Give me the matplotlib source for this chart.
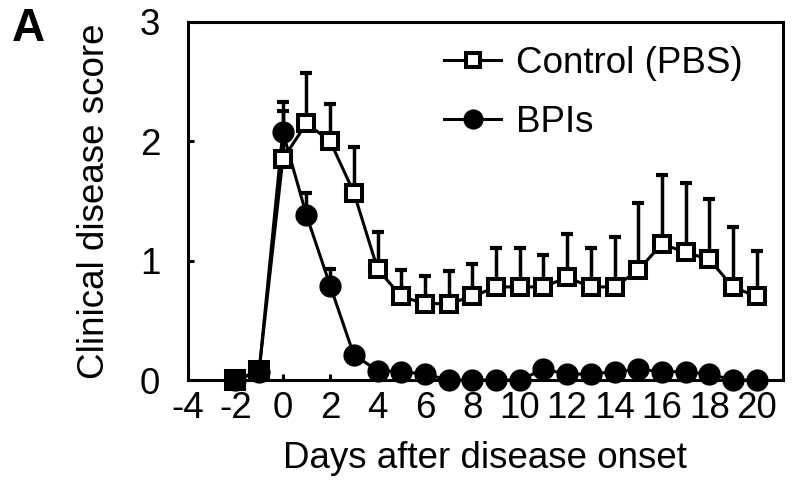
import numpy as np
import matplotlib.pyplot as plt

plt.rcParams["font.family"] = ["Liberation Sans", "DejaVu Sans"]
plt.rcParams["axes.unicode_minus"] = False

# =========================
# Data
# =========================
days = [-2, -1, 0, 1, 2, 3, 4, 5, 6, 7, 8, 9, 10, 11, 12, 13, 14, 15, 16, 17, 18, 19, 20]

ctrl_mean = [0.0, 0.08, 1.85, 2.15, 2.0, 1.57, 0.93, 0.70, 0.64, 0.64, 0.70, 0.78,
             0.78, 0.78, 0.86, 0.78, 0.78, 0.92, 1.14, 1.07, 1.01, 0.78, 0.70]
ctrl_err = [0.0, 0.0, 0.40, 0.42, 0.31, 0.38, 0.31, 0.22, 0.23, 0.27, 0.27, 0.33,
            0.33, 0.27, 0.36, 0.33, 0.42, 0.56, 0.58, 0.58, 0.51, 0.50, 0.38]

bpi_mean = [0.0, 0.07, 2.08, 1.38, 0.79, 0.21, 0.08, 0.07, 0.05, 0.0, 0.0, 0.0,
            0.0, 0.09, 0.05, 0.05, 0.07, 0.09, 0.07, 0.07, 0.05, 0.0, 0.0]
bpi_err = [0.0, 0.0, 0.25, 0.19, 0.14, 0.03, 0.02, 0.02, 0.02, 0.0, 0.0, 0.0,
           0.0, 0.04, 0.02, 0.02, 0.03, 0.04, 0.02, 0.02, 0.0, 0.0, 0.0]

xticks = list(range(-4, 21, 2))
yticks = [0, 1, 2, 3]

# =========================
# Plot
# =========================
fig = plt.figure(figsize=(7.94, 4.86), dpi=100)
ax = fig.add_axes([0.2368, 0.218, 0.749, 0.737])

lw = 2.2
fs = 26.5

# BPIs (drawn first, squares sit on top)
ax.errorbar(days, bpi_mean, yerr=[np.zeros(len(days)), bpi_err],
            fmt="none", ecolor="black", elinewidth=2.5, capsize=4.3, capthick=3,
            zorder=2, clip_on=False)
ax.plot(days, bpi_mean, color="black", lw=lw, marker="o", ms=14.5, mew=1.5,
        mfc="black", mec="black", zorder=3, label="BPIs", clip_on=False)

# Control
ax.errorbar(days, ctrl_mean, yerr=[np.zeros(len(days)), ctrl_err],
            fmt="none", ecolor="black", elinewidth=2.5, capsize=4.3, capthick=3,
            zorder=4, clip_on=False)
ax.plot(days, ctrl_mean, color="black", lw=lw, marker="s", ms=11.5,
        mfc="white", mec="black", mew=2.9, zorder=5, label="Control (PBS)",
        clip_on=False)
ax.plot(days[:2], ctrl_mean[:2], ls="none", marker="s", ms=12.5,
        mfc="black", mec="black", mew=2.9, zorder=6, clip_on=False)

ax.set_xlim(-4, 21.1)
ax.set_ylim(0, 3)
ax.set_xticks(xticks)
ax.set_yticks(yticks)
ax.tick_params(direction="in", length=4, width=2.2, labelsize=fs)
ax.tick_params(axis="x", pad=8)
ax.tick_params(axis="y", pad=20)

for side in ax.spines:
    ax.spines[side].set_linewidth(2.2)

ax.set_xlabel("Days after disease onset", fontsize=fs, labelpad=11)
ax.set_ylabel("Clinical disease score", fontsize=fs, labelpad=20)

handles, labels = ax.get_legend_handles_labels()
ax.legend(handles[::-1], labels[::-1], loc="upper right", bbox_to_anchor=(0.988, 1.025),
          frameon=False, fontsize=fs, handlelength=1.55, labelspacing=0.65,
          handletextpad=0.4, markerscale=0.9)

fig.text(0.015, 0.915, "A", fontsize=33, fontweight="bold", va="baseline")

plt.savefig("out.png", dpi=100)
plt.close()
